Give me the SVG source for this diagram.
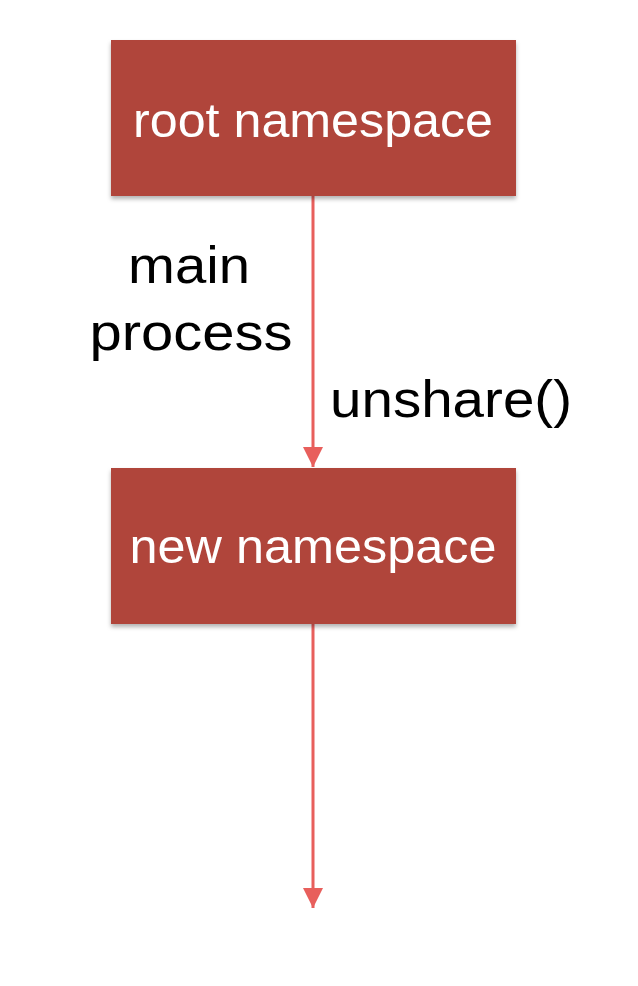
<svg xmlns="http://www.w3.org/2000/svg" width="638" height="986" viewBox="0 0 638 986">
<style>
.box{fill:#b0443a;filter:url(#sh)}
.bt{font-family:"Liberation Sans",Arial,sans-serif;font-size:48px;fill:#ffffff;text-anchor:middle}
.lb{font-family:"Liberation Sans",Arial,sans-serif;font-size:52px;fill:#000000;text-anchor:middle}
.ln{stroke:#e85f5c;stroke-width:3;fill:none}
</style>
<defs>
<filter id="sh" x="-5%" y="-10%" width="110%" height="130%">
<feDropShadow dx="0" dy="3" stdDeviation="2" flood-color="#000" flood-opacity="0.3"/>
</filter>
<marker id="ah" markerUnits="userSpaceOnUse" markerWidth="20" markerHeight="20" viewBox="0 0 20 20" refX="20" refY="10" orient="auto">
<path d="M0,0 L20,10 L0,20 Z" fill="#e85f5c"/>
</marker>
</defs>
<g id="connectors">
<line class="ln" x1="313" y1="196" x2="313" y2="467" marker-end="url(#ah)"/>
<line class="ln" x1="313" y1="624" x2="313" y2="908" marker-end="url(#ah)"/>
</g>
<g id="root">
<rect class="box" x="111" y="40" width="405" height="156"/>
<text class="bt" x="313" y="137" textLength="360" lengthAdjust="spacingAndGlyphs">root namespace</text>
</g>
<g id="new">
<rect class="box" x="111" y="468" width="405" height="156"/>
<text class="bt" x="313" y="563" textLength="367" lengthAdjust="spacingAndGlyphs">new namespace</text>
</g>
<g id="labels">
<text class="lb" x="189" y="283" textLength="122" lengthAdjust="spacingAndGlyphs">main</text>
<text class="lb" x="191" y="350" textLength="203" lengthAdjust="spacingAndGlyphs">process</text>
<text class="lb" x="451" y="417" textLength="242" lengthAdjust="spacingAndGlyphs">unshare()</text>
</g>
</svg>
